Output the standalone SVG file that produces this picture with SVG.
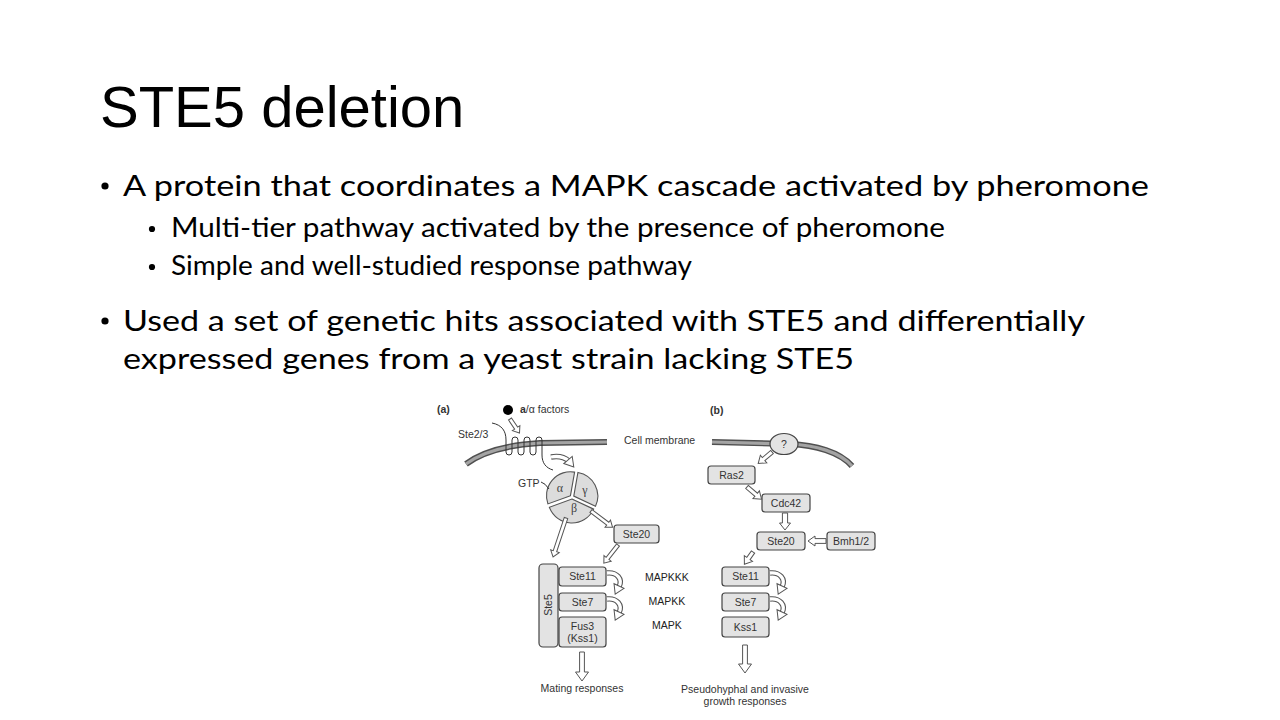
<svg xmlns="http://www.w3.org/2000/svg" width="1280" height="720" viewBox="0 0 1280 720">
<style>
.title{font-family:"Liberation Sans",Arial,sans-serif;font-size:58px;fill:#000}
.b1{font-family:Lato,"Open Sans",sans-serif;font-size:29px;fill:#000}
.b2{font-family:Lato,"Open Sans",sans-serif;font-size:26px;fill:#000}
.lbl{font-family:"Liberation Sans",Arial,sans-serif;font-size:10.5px;fill:#333}
.bl{font-family:"Liberation Sans",Arial,sans-serif;font-size:10.5px;fill:#333;text-anchor:middle}
.gk{font-family:"Liberation Serif","Times New Roman",serif;font-size:12px;fill:#444;text-anchor:middle}
.box{fill:#e3e3e3;stroke:#444;stroke-width:1.2}
.sec{fill:#dcdcdc;stroke:#555;stroke-width:1.1}
.ha{fill:#fff;stroke:#555;stroke-width:1;stroke-linejoin:miter}
.memo{fill:none;stroke:#505050;stroke-width:6}
.memi{fill:none;stroke:#a4a4a4;stroke-width:3.2}
.ln{fill:none;stroke:#333;stroke-width:1}
.co{fill:none;stroke:#555;stroke-width:5.4}
.ci{fill:none;stroke:#fff;stroke-width:3.3}
</style>
<rect width="1280" height="720" fill="#fff"/>

<g id="slide-text">
<text class="title" x="100" y="127">STE5 deletion</text>
<circle cx="105" cy="186" r="3.6" fill="#000"/>
<text class="b1" x="123" y="196" textLength="1026" lengthAdjust="spacingAndGlyphs">A protein that coordinates a MAPK cascade activated by pheromone</text>
<circle cx="152" cy="229" r="3.1" fill="#000"/>
<text class="b2" x="171" y="237" textLength="774" lengthAdjust="spacingAndGlyphs">Multi-tier pathway activated by the presence of pheromone</text>
<circle cx="152" cy="267" r="3.1" fill="#000"/>
<text class="b2" x="171" y="275" textLength="521" lengthAdjust="spacingAndGlyphs">Simple and well-studied response pathway</text>
<circle cx="105" cy="321" r="3.6" fill="#000"/>
<text class="b1" x="123" y="331" textLength="962" lengthAdjust="spacingAndGlyphs">Used a set of genetic hits associated with STE5 and differentially</text>
<text class="b1" x="123" y="369" textLength="731" lengthAdjust="spacingAndGlyphs">expressed genes from a yeast strain lacking STE5</text>
</g>

<g id="membranes">
<path class="memo" d="M466,464 Q490,446 540,443 L607,442"/>
<path class="memi" d="M466,464 Q490,446 540,443 L607,442"/>
<path class="memo" d="M712,442 L790,444 C815,445 840,452 852,466"/>
<path class="memi" d="M712,442 L790,444 C815,445 840,452 852,466"/>
<text class="lbl" x="624" y="444">Cell membrane</text>
</g>

<g id="panel-labels">
<text class="lbl" x="437" y="413" style="font-weight:bold">(a)</text>
<text class="lbl" x="710" y="414" style="font-weight:bold">(b)</text>
</g>

<g id="factor">
<circle cx="508" cy="410" r="5" fill="#000"/>
<text class="lbl" x="520" y="413"><tspan style="font-weight:bold">a</tspan>/α factors</text>
</g>

<g id="receptor">
<path class="ln" d="M492,423 C502,425 506,431 506,440 L506,452 A3,3 0 0 0 512,452 L512,440 A3,3 0 0 1 518,440 L518,452 A3,3 0 0 0 524,452 L524,440 A3,3 0 0 1 530,440 L530,452 A3,3 0 0 0 536,452 L536,440 A3,3 0 0 1 542,440 L542,455 C542,463 546,468 553,470"/>
<text class="lbl" x="458" y="438">Ste2/3</text>
</g>

<g id="g-protein">
<path class="sec" d="M570.47,495.71 L547.9,503.9 A24,24 0 0 1 574.6,472.1 Z"/>
<path class="sec" d="M573.77,496.08 L577.94,472.44 A24,24 0 0 1 595.5,506.2 Z"/>
<path class="sec" d="M571.91,499 L593.66,509.14 A24,24 0 0 1 549.36,507.21 Z"/>
<text class="gk" x="560" y="492">α</text>
<text class="gk" x="585" y="494">γ</text>
<text class="gk" x="574" y="512">β</text>
<text class="lbl" x="518" y="487">GTP</text>
<path class="ln" d="M541,482 Q545,483 549,489"/>
</g>

<g id="ste20-a"><rect class="box" x="614" y="525" width="45" height="18" rx="3"/><text class="bl" x="636.5" y="538">Ste20</text></g>
<g id="ste5"><rect class="box" x="539" y="564" width="19" height="83" rx="4"/><text class="bl" transform="translate(552,605) rotate(-90)" x="0" y="0">Ste5</text></g>
<g id="ste11-a"><rect class="box" x="559" y="567" width="47" height="19" rx="3"/><text class="bl" x="582.5" y="580">Ste11</text></g>
<g id="ste7-a"><rect class="box" x="559" y="593" width="47" height="18" rx="3"/><text class="bl" x="582.5" y="606">Ste7</text></g>
<g id="fus3"><rect class="box" x="559" y="617" width="47" height="30" rx="3"/><text class="bl" x="582.5" y="630">Fus3</text><text class="bl" x="582.5" y="642">(Kss1)</text></g>

<g id="tier-labels">
<text class="lbl" x="667" y="581" text-anchor="middle" style="fill:#222">MAPKKK</text>
<text class="lbl" x="667" y="605" text-anchor="middle" style="fill:#222">MAPKK</text>
<text class="lbl" x="667" y="629" text-anchor="middle" style="fill:#222">MAPK</text>
</g>

<g id="unknown"><ellipse cx="784" cy="444" rx="14" ry="10.5" fill="#e3e3e3" stroke="#444" stroke-width="1.2"/><text class="bl" x="784" y="448">?</text></g>
<g id="ras2"><rect class="box" x="708" y="466" width="47" height="18" rx="3"/><text class="bl" x="731.5" y="479">Ras2</text></g>
<g id="cdc42"><rect class="box" x="762" y="494" width="48" height="18" rx="3"/><text class="bl" x="786" y="507">Cdc42</text></g>
<g id="ste20-b"><rect class="box" x="757" y="532" width="48" height="18" rx="3"/><text class="bl" x="781" y="545">Ste20</text></g>
<g id="bmh"><rect class="box" x="827" y="532" width="48" height="18" rx="3"/><text class="bl" x="851" y="545">Bmh1/2</text></g>
<g id="ste11-b"><rect class="box" x="722" y="567" width="47" height="19" rx="3"/><text class="bl" x="745.5" y="580">Ste11</text></g>
<g id="ste7-b"><rect class="box" x="722" y="593" width="47" height="18" rx="3"/><text class="bl" x="745.5" y="606">Ste7</text></g>
<g id="kss1"><rect class="box" x="722" y="617" width="47" height="20" rx="3"/><text class="bl" x="745.5" y="631">Kss1</text></g>

<g id="outputs">
<text class="lbl" x="582" y="692" text-anchor="middle">Mating responses</text>
<text class="lbl" x="745" y="693" text-anchor="middle">Pseudohyphal and invasive</text>
<text class="lbl" x="745" y="705" text-anchor="middle">growth responses</text>
</g>

<g id="connectors">
<polygon class="ha" transform="translate(510,419) rotate(56)" points="0,-1.8 11,-1.8 11,-4.5 17,0 11,4.5 11,1.8 0,1.8"/>
<path class="co" d="M551,457 Q562,455 569,461"/>
<path class="ci" d="M551,457 Q562,455 569,461"/>
<polygon class="ha" transform="translate(568,460) rotate(50)" points="0,-5.5 9,0 0,5.5"/>
<polygon class="ha" transform="translate(591,511) rotate(37)" points="0,-1.8 21,-1.8 21,-4.5 27,0 21,4.5 21,1.8 0,1.8"/>
<polygon class="ha" transform="translate(566,518) rotate(108.4)" points="0,-1.8 35,-1.8 35,-4.5 41,0 35,4.5 35,1.8 0,1.8"/>
<polygon class="ha" transform="translate(618,545) rotate(128)" points="0,-1.8 17,-1.8 17,-4.5 23,0 17,4.5 17,1.8 0,1.8"/>
<path class="co" d="M607,573 C617,572 623,579 619,587"/><path class="ci" d="M607,573 C617,572 623,579 619,587"/>
<polygon class="ha" transform="translate(619,586) rotate(115)" points="0,-5.5 9,0 0,5.5"/>
<path class="co" d="M607,599 C617,598 623,605 619,613"/><path class="ci" d="M607,599 C617,598 623,605 619,613"/>
<polygon class="ha" transform="translate(619,612) rotate(115)" points="0,-5.5 9,0 0,5.5"/>
<polygon class="ha" transform="translate(582,652) rotate(90)" points="0,-2.4 20,-2.4 20,-6.5 29,0 20,6.5 20,2.4 0,2.4"/>
<polygon class="ha" transform="translate(772,452) rotate(140)" points="0,-2 11,-2 11,-5 18,0 11,5 11,2 0,2"/>
<polygon class="ha" transform="translate(747,487) rotate(40)" points="0,-2 12,-2 12,-5 19,0 12,5 12,2 0,2"/>
<polygon class="ha" transform="translate(785,513) rotate(90)" points="0,-2.6 10,-2.6 10,-5.5 17,0 10,5.5 10,2.6 0,2.6"/>
<polygon class="ha" transform="translate(826,541) rotate(180)" points="0,-2.4 11,-2.4 11,-5 18,0 11,5 11,2.4 0,2.4"/>
<polygon class="ha" transform="translate(753,552) rotate(125)" points="0,-2 8,-2 8,-5 15,0 8,5 8,2 0,2"/>
<path class="co" d="M770,573 C780,572 786,579 782,587"/><path class="ci" d="M770,573 C780,572 786,579 782,587"/>
<polygon class="ha" transform="translate(782,586) rotate(115)" points="0,-5.5 9,0 0,5.5"/>
<path class="co" d="M770,599 C780,598 786,605 782,613"/><path class="ci" d="M770,599 C780,598 786,605 782,613"/>
<polygon class="ha" transform="translate(782,612) rotate(115)" points="0,-5.5 9,0 0,5.5"/>
<polygon class="ha" transform="translate(745,645) rotate(90)" points="0,-2.4 19,-2.4 19,-6.5 28,0 19,6.5 19,2.4 0,2.4"/>
</g>
</svg>
